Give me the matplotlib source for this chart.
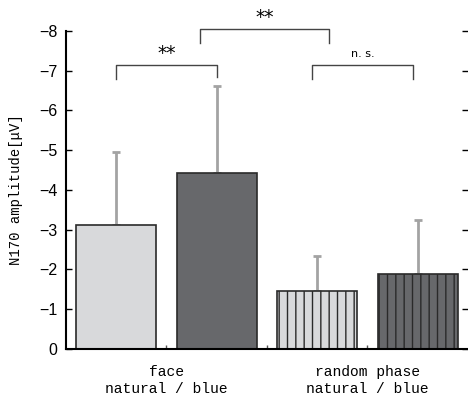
import matplotlib
matplotlib.use("Agg")
import matplotlib.pyplot as plt
import numpy as np

# data (negative = N170 amplitude in microvolts)
conditions = ["face natural", "face blue", "random natural", "random blue"]
means = [-3.12, -4.42, -1.45, -1.88]
sds = [1.83, 2.20, 0.89, 1.37]
colors = ["#d8d9db", "#67686b", "#d8d9db", "#67686b"]
hatches = ["", "", "||", "||"]
group_pos = [0.5, 2.5]
group_labels = ["face\nnatural / blue", "random phase\nnatural / blue"]
yticks = [0, -1, -2, -3, -4, -5, -6, -7, -8]

fig = plt.figure(figsize=(4.68, 4.01), dpi=100)
ax = fig.add_axes([0.141, 0.13, 0.859, 0.793])

x = np.arange(len(means))
plt.rcParams["hatch.linewidth"] = 1.0
for i in range(len(means)):
    ax.bar(x[i], means[i], width=0.8, color=colors[i], edgecolor="#2a2a2a",
           linewidth=1.2, hatch=hatches[i], zorder=2)
    ax.errorbar(x[i], means[i], yerr=[[sds[i]], [0]], fmt="none",
                ecolor="#a3a3a3", elinewidth=2, capsize=3, capthick=2, zorder=1)

ax.set_xlim(-0.5, 3.5)
ax.set_ylim(0, -8)
ax.set_yticks(yticks)
ax.set_yticklabels(["0" if v == 0 else "\u2212%d" % abs(v) for v in yticks],
                   family=["Liberation Sans Narrow", "Liberation Sans", "DejaVu Sans"],
                   fontsize=11.5)
ax.tick_params(axis="y", direction="in", length=4, width=1, left=True, right=True, pad=6)
ax.set_xticks([0.5, 1.5, 2.5])
ax.set_xticklabels([])
ax.tick_params(axis="x", direction="in", length=3, width=1, color="#555555")
for v, lab in zip(group_pos, group_labels):
    ax.text(v, -0.05, lab, transform=ax.get_xaxis_transform(), ha="center",
            va="top", fontsize=10.5, family="Liberation Mono", linespacing=1.25)

ax.spines["top"].set_visible(False)
ax.spines["right"].set_visible(False)
ax.spines["left"].set_linewidth(1.5)
ax.spines["bottom"].set_linewidth(1.5)

ax.set_ylabel("N170 amplitude[\u03bcV]", family="Liberation Mono", fontsize=10, labelpad=12)


def bracket(x0, x1, y, h0, h1, label, size, off):
    ax.plot([x0, x0, x1, x1], [y + h0, y, y, y + h1], color="#444444", lw=1,
            clip_on=False, zorder=3)
    ax.text((x0 + x1) / 2, y - off, label, ha="center", va="bottom",
            fontsize=size, family="DejaVu Sans", clip_on=False)


bracket(0, 1, -7.14, 0.36, 0.3, "**", 13.5, 0.05)
bracket(0.83, 2.12, -8.05, 0.36, 0.36, "**", 13.5, 0.05)
bracket(1.95, 2.95, -7.14, 0.36, 0.36, "n. s.", 8, 0.15)

fig.savefig("out.png", dpi=100)
